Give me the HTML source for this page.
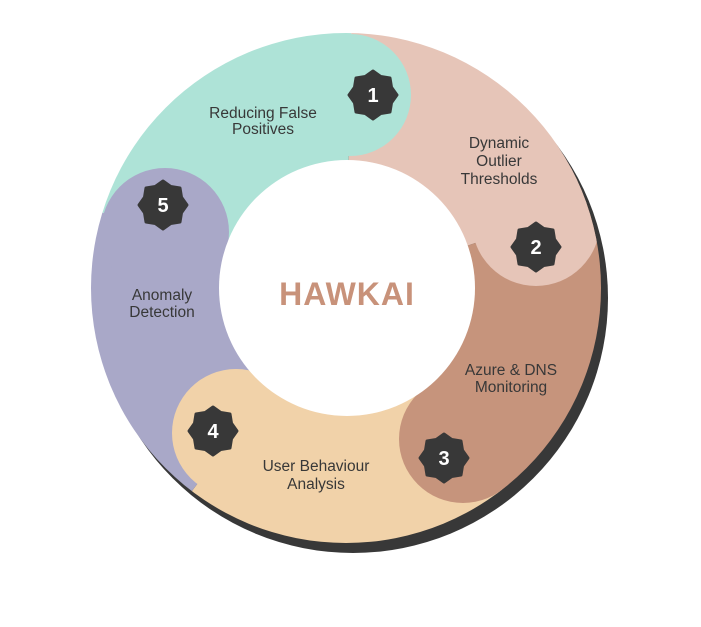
<!DOCTYPE html>
<html><head><meta charset="utf-8"><style>
html,body{margin:0;padding:0;background:#fff;}
svg{display:block;}
text{font-family:"Liberation Sans",sans-serif;}
</style></head><body>
<svg width="701" height="627" viewBox="0 0 701 627">
<defs>
<clipPath id="c"><circle cx="346" cy="288" r="255"/></clipPath>
<polygon id="b" points="24,0 18.5,7.7 17,17 7.7,18.5 0,24 -7.7,18.5 -17,17 -18.5,7.7 -24,0 -18.5,-7.7 -17,-17 -7.7,-18.5 0,-24 7.7,-18.5 17,-17 18.5,-7.7" fill="#383838" stroke="#383838" stroke-width="3" stroke-linejoin="round"/>
</defs>
<circle cx="353" cy="298" r="255" fill="#383838"/>
<g clip-path="url(#c)">
<path d="M346 288 L59.4 199.3 A300 300 0 0 1 352.3 -12 Z" fill="#aee3d7"/>
<path d="M346 288 L352.3 -12 A300 300 0 0 1 629.3 189.3 Z" fill="#e6c5b8"/>
<path d="M346 288 L629.3 189.3 A300 300 0 0 1 529.9 525.1 Z" fill="#c6947c"/>
<path d="M346 288 L529.9 525.1 A300 300 0 0 1 164.6 527 Z" fill="#f1d2a9"/>
<path d="M346 288 L164.6 527 A300 300 0 0 1 59.4 199.3 Z" fill="#a9a8c8"/>
<circle cx="350" cy="95" r="61" fill="#aee3d7"/>
<circle cx="536" cy="222" r="64" fill="#e6c5b8"/>
<circle cx="463" cy="439" r="64" fill="#c6947c"/>
<circle cx="236" cy="433" r="64" fill="#f1d2a9"/>
<circle cx="165" cy="232" r="64" fill="#a9a8c8"/>
</g>
<circle cx="347" cy="288" r="128" fill="#fff"/>
<text x="347" y="305" text-anchor="middle" font-size="32" font-weight="bold" fill="#c8927a" letter-spacing="1">HAWKAI</text>
<g font-size="15.5" fill="#383838" text-anchor="middle">
<text x="263" y="118">Reducing False</text><text x="263" y="134">Positives</text>
<text x="499" y="148">Dynamic</text><text x="499" y="166">Outlier</text><text x="499" y="184">Thresholds</text>
<text x="511" y="375">Azure &amp; DNS</text><text x="511" y="392">Monitoring</text>
<text x="316" y="471">User Behaviour</text><text x="316" y="489">Analysis</text>
<text x="162" y="300">Anomaly</text><text x="162" y="317">Detection</text>
</g>
<use href="#b" x="373" y="95"/><use href="#b" x="536" y="247"/><use href="#b" x="444" y="458"/><use href="#b" x="213" y="431"/><use href="#b" x="163" y="205"/>
<g font-size="20" font-weight="bold" fill="#fff" text-anchor="middle">
<text x="373" y="102">1</text><text x="536" y="254">2</text><text x="444" y="465">3</text><text x="213" y="438">4</text><text x="163" y="212">5</text>
</g>
</svg>
</body></html>
